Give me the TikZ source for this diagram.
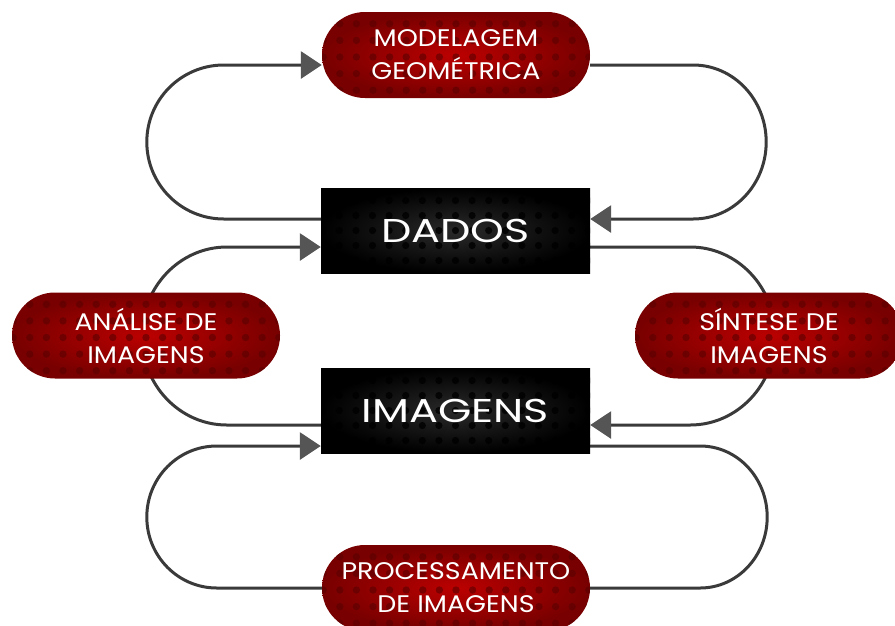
\documentclass[tikz,border=0pt]{standalone}
\usepackage{fontspec}
\setmainfont{Poppins}
\newfontfamily\pillfont{Poppins}[FakeStretch=1.12]
\newfontfamily\boxfont{Poppins}[FakeStretch=1.3]
\usetikzlibrary{arrows.meta,backgrounds,calc}
\definecolor{linec}{HTML}{3A3A3A}
\definecolor{redin}{HTML}{BC0000}
\definecolor{redout}{HTML}{780000}
\definecolor{dotred}{HTML}{5A0000}
\definecolor{boxin}{HTML}{2A2A2A}
\definecolor{arrowc}{HTML}{555555}
\tikzset{
  pill/.style={minimum width=268pt, minimum height=86pt, rounded corners=43pt,
    inner color=redin, outer color=redout, text=white, align=center,
    font=\pillfont\fontsize{24}{33}\selectfont, inner sep=0pt,
    path picture={\foreach \i in {-8,...,8}{\foreach \j in {-2,...,2}{
      \fill[dotred, opacity=0.6] ($(path picture bounding box.center)+(\i*16.6,\j*16.6+2)$) circle (3.7pt);}}}},
  darkbox/.style={minimum width=269pt, minimum height=85pt,
    inner color=boxin, outer color=black, text=white, align=center,
    font=\boxfont\fontsize{33}{33}\selectfont, inner sep=0pt,
    path picture={\foreach \i in {-8,...,8}{\foreach \j in {-2,...,2}{
      \fill[black, opacity=0.8] ($(path picture bounding box.center)+(\i*16.6,\j*15)$) circle (3.6pt);}}}},
  conn/.style={draw=linec, line width=3pt},
  arr/.style={-{Triangle[length=21pt,width=27pt,color=arrowc,fill=arrowc]}}
}
\begin{document}
\begin{tikzpicture}[x=1pt,y=-1pt]
\useasboundingbox (0,0) rectangle (895,625);

\node[pill] (model) at (456,55) {MODELAGEM\\GEOMÉTRICA};
\node[darkbox] (dados) at (455.5,230.5) {DADOS};
\node[pill] (analise) at (146,335.5) {ANÁLISE DE\\IMAGENS};
\node[pill] (sintese) at (769,335.5) {SÍNTESE DE\\IMAGENS};
\node[darkbox] (imagens) at (455.5,410.5) {IMAGENS};
\node[pill] (proc) at (456,588) {PROCESSAMENTO\\DE IMAGENS};

\begin{scope}[on background layer]
\draw[conn,arr] ([yshift=11.5pt]dados.west) -- ++(-97,0)
  arc[start angle=90,end angle=270,x radius=77,y radius=77] -- ([yshift=-10pt]model.west);
\draw[conn,arr] ([yshift=-10pt]model.east) -- ++(103,0)
  arc[start angle=-90,end angle=90,x radius=73,y radius=77] -- ([yshift=11.5pt]dados.east);
\draw[conn,arr] ([yshift=-14.5pt]imagens.west) -- ++(-94,0)
  arc[start angle=90,end angle=270,x radius=85,y radius=89] -- ([yshift=-16.5pt]dados.west);
\draw[conn,arr] ([yshift=-16.5pt]dados.east) -- ++(100,0)
  arc[start angle=-90,end angle=90,x radius=85,y radius=89] -- ([yshift=-14.5pt]imagens.east);
\draw[conn,arr] (proc.west) -- ++(-105,0)
  arc[start angle=90,end angle=270,x radius=70,y radius=71] -- ([yshift=-35.5pt]imagens.west);
\draw[conn] ([yshift=-35.5pt]imagens.east) -- ++(110,0)
  arc[start angle=-90,end angle=90,x radius=67,y radius=71] -- (proc.east);
\end{scope}
\end{tikzpicture}
\end{document}
